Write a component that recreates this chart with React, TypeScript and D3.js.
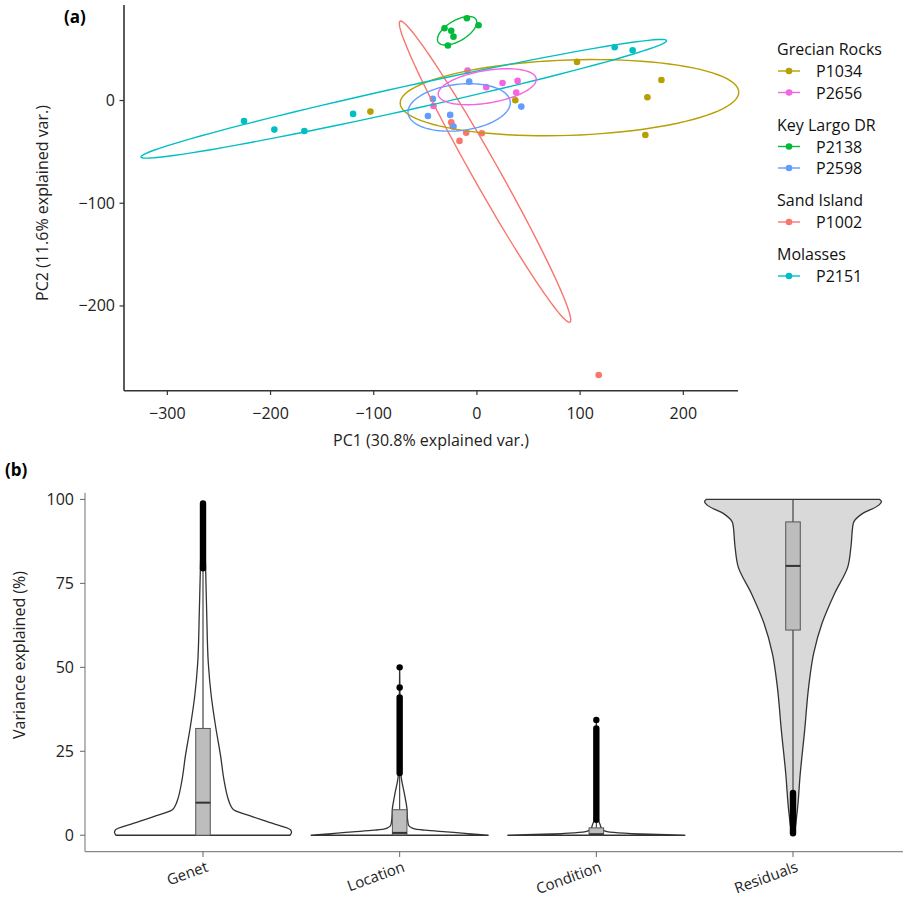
import React from "react";
import * as d3 from "d3";

// ---------- Panel (a) data: PCA scores per genet (PC1, PC2) ----------
const genets = ["P1002", "P1034", "P2138", "P2151", "P2598", "P2656"]; // factor (draw) order
const genetColors = ["#F8766D", "#B79F00", "#00BA38", "#00BFC4", "#619CFF", "#F564E3"];

const pcP1002 = [[-24.9, -21.1], [-10.4, -31.3], [4.8, -31.9], [-16.9, -39.3], [118, -267.2], [-23.5, -25]];
const pcP1034 = [[-103.2, -10.8], [97, 37.6], [178.8, 20], [165.2, 3.2], [163.2, -33.5], [37.2, 0.3]];
const pcP2138 = [[-9.7, 80.1], [1.6, 73.3], [-31.4, 70.4], [-24.9, 68], [-22.7, 62.2], [-28.1, 53.5]];
const pcP2151 = [[-225.7, -19.9], [-196.3, -28.3], [-167.2, -29.6], [-120, -13], [133.5, 51.9], [150.9, 49]];
const pcP2598 = [[-7.5, 18.4], [-42.7, 1.6], [-47.5, -15], [-25.9, -14], [-22.7, -25.4], [43, -5.9]];
const pcP2656 = [[-9.1, 29.1], [9, 13], [24.8, 17.1], [39.4, 19.1], [38.1, 7.7], [-42.1, -5.3]];
const pcScores = [pcP1002, pcP1034, pcP2138, pcP2151, pcP2598, pcP2656];

const sites = ["Grecian Rocks", "Key Largo DR", "Sand Island", "Molasses"];
const siteGenets = [["P1034", "P2656"], ["P2138", "P2598"], ["P1002"], ["P2151"]];

const xTicksA = [-300, -200, -100, 0, 100, 200];
const yTicksA = [-200, -100, 0];
const ellipseProb = 0.68;

// ---------- Panel (b) data: variance partitioning ----------
const components = ["Genet", "Location", "Condition", "Residuals"];
// violin outlines: [value %, relative density (max = 1)]
const violinGenet = [[0, 0.983], [0.8, 1], [1.6, 0.99], [3.6, 0.78], [5.5, 0.565], [7.5, 0.35], [9, 0.31], [10.5, 0.288], [16.5, 0.237], [23.4, 0.2], [32.3, 0.143], [41.3, 0.094], [51.2, 0.06], [66, 0.042], [79, 0.03], [90, 0.017], [99, 0]];
const violinLocation = [[0, 1], [0.5, 0.77], [1.0, 0.53], [1.5, 0.29], [1.8, 0.18], [2.3, 0.13], [3, 0.1], [5, 0.088], [8, 0.082], [12, 0.056], [18.4, 0.014], [30, 0.008], [50, 0]];
const violinCondition = [[0, 1], [0.3, 0.6], [0.7, 0.25], [1.2, 0.1], [2, 0.06], [3, 0.045], [4.5, 0.025], [8, 0.012], [20, 0.006], [34.3, 0]];
const violinResiduals = [[0.5, 0], [0.6, 0.011], [6.5, 0.045], [18.4, 0.082], [31.3, 0.132], [44.2, 0.177], [54.2, 0.234], [63.1, 0.328], [72, 0.47], [80, 0.62], [85.9, 0.655], [92.8, 0.68], [95.7, 0.78], [98.3, 0.97], [99.4, 1.0], [100, 0.98]];
const violins = [violinGenet, violinLocation, violinCondition, violinResiduals];
const violinFills = ["#ffffff", "#ffffff", "#ffffff", "#d9d9d9"];

// box stats: [whisker low, q1, median, q3, whisker high]
const boxStats = [[0, 0, 9.7, 31.8, 79.2], [0, 0.1, 0.7, 7.6, 18.2], [0, 0.05, 0.3, 2.2, 4.5], [12.8, 61.1, 80.2, 93.3, 100]];
// dense outlier runs [from, to] and isolated outliers
const outlierRuns = [[[79.5, 98.8]], [[18.5, 41]], [[4.6, 31.8]], [[0.6, 12.6]]];
const outlierPoints = [[], [44, 50], [34.3], []];
const yTicksB = [0, 25, 50, 75, 100];

const FONT = "'Open Sans', 'Noto Sans', sans-serif";
const fmt = (v: number) => (v < 0 ? "\u2212" + Math.abs(v) : String(v));

function ellipsePath(pts: number[][], x: any, y: any) {
  const n = pts.length;
  const mx = d3.mean(pts, (p) => p[0]) as number;
  const my = d3.mean(pts, (p) => p[1]) as number;
  let sxx = 0, syy = 0, sxy = 0;
  pts.forEach((p) => {
    sxx += (p[0] - mx) ** 2;
    syy += (p[1] - my) ** 2;
    sxy += (p[0] - mx) * (p[1] - my);
  });
  sxx /= n - 1; syy /= n - 1; sxy /= n - 1;
  const u11 = Math.sqrt(sxx);
  const u12 = sxy / u11;
  const u22 = Math.sqrt(Math.max(syy - u12 * u12, 0));
  const ed = Math.sqrt(-2 * Math.log(1 - ellipseProb));
  const ring = d3.range(0, 101).map((i) => {
    const t = (2 * Math.PI * i) / 100;
    const c = Math.cos(t), s = Math.sin(t);
    return [mx + ed * c * u11, my + ed * (c * u12 + s * u22)];
  });
  return d3.line().x((d: any) => x(d[0])).y((d: any) => y(d[1]))(ring as any) as string;
}

export default function App() {
  // Panel (a) scales
  const xA = d3.scaleLinear().domain([-342, 253]).range([124, 738]);
  const yA = d3.scaleLinear().domain([-282.5, 93]).range([390.7, 5]);

  // Panel (b) scales
  const xB = d3.scalePoint().domain(components).range([85, 911]).padding(0.6);
  const yB = d3.scaleLinear().domain([-4.9, 102]).range([851.7, 492.7]);
  const step = xB.step();
  const wScale = d3.scaleLinear().domain([0, 1]).range([0, 0.45 * step]);
  const boxW = step * 0.074;

  // legend layout
  const legendItems: any[] = [];
  let ly = 49;
  sites.forEach((s, si) => {
    legendItems.push({ type: "title", text: s, y: ly });
    ly += 22;
    siteGenets[si].forEach((g, gi) => {
      legendItems.push({ type: "item", text: g, y: ly, color: genetColors[genets.indexOf(g)] });
      if (gi < siteGenets[si].length - 1) ly += 21.5;
    });
    ly += 32;
  });

  return (
    <svg width={903} height={900} style={{ display: "block", position: "absolute", left: 0, top: 0 }} fontFamily={FONT}>
      <rect width={903} height={900} fill="#fff" />
      {/* ---------------- Panel (a) ---------------- */}
      <text x={64} y={23} fontSize={17} fontWeight="bold" fill="#000">(a)</text>
      {/* points */}
      {pcScores.map((pts, gi) =>
        pts.map((p, i) => (
          <circle key={`p${gi}-${i}`} cx={xA(p[0])} cy={yA(p[1])} r={3.3} fill={genetColors[gi]} />
        ))
      )}
      {/* ellipses */}
      {pcScores.map((pts, gi) => (
        <path key={`e${gi}`} d={ellipsePath(pts, xA, yA)} fill="none" stroke={genetColors[gi]} strokeWidth={1.4} />
      ))}
      {/* axes */}
      <line x1={124} x2={124} y1={5} y2={390.7} stroke="#333" strokeWidth={1.6} />
      <line x1={124} x2={738} y1={390.7} y2={390.7} stroke="#333" strokeWidth={1.6} />
      {xTicksA.map((t) => (
        <g key={`xa${t}`}>
          <line x1={xA(t)} x2={xA(t)} y1={390.7} y2={395} stroke="#333" strokeWidth={1.2} />
          <text x={xA(t)} y={419} fontSize={16} textAnchor="middle" fill="#222">{fmt(t)}</text>
        </g>
      ))}
      {yTicksA.map((t) => (
        <g key={`ya${t}`}>
          <line x1={119.5} x2={124} y1={yA(t)} y2={yA(t)} stroke="#333" strokeWidth={1.2} />
          <text x={115} y={yA(t) + 5.5} fontSize={16} textAnchor="end" fill="#222">{fmt(t)}</text>
        </g>
      ))}
      <text x={431} y={446} fontSize={16} textAnchor="middle" fill="#222">PC1 (30.8% explained var.)</text>
      <text transform={`translate(48,203) rotate(-90)`} fontSize={16} textAnchor="middle" fill="#222">PC2 (11.6% explained var.)</text>
      {/* legend */}
      {legendItems.map((it, i) =>
        it.type === "title" ? (
          <text key={`l${i}`} x={777} y={it.y + 6} fontSize={16} fill="#111">{it.text}</text>
        ) : (
          <g key={`l${i}`}>
            <line x1={778} x2={800} y1={it.y} y2={it.y} stroke={it.color} strokeWidth={1.4} />
            <circle cx={789} cy={it.y} r={3.3} fill={it.color} />
            <text x={816} y={it.y + 6} fontSize={16} fill="#111">{it.text}</text>
          </g>
        )
      )}

      {/* ---------------- Panel (b) ---------------- */}
      <text x={5} y={476} fontSize={17} fontWeight="bold" fill="#000">(b)</text>
      {components.map((c, ci) => {
        const cx = xB(c) as number;
        const area = d3
          .area<number[]>()
          .y((d) => yB(d[0]))
          .x0((d) => cx - wScale(d[1]))
          .x1((d) => cx + wScale(d[1]))
          .curve(d3.curveMonotoneY);
        const bs = boxStats[ci];
        return (
          <g key={`v${c}`}>
            <path d={area(violins[ci] as any) as string} fill={violinFills[ci]} stroke="#333" strokeWidth={1.3} strokeLinejoin="round" />
            {/* whiskers */}
            <line x1={cx} x2={cx} y1={yB(bs[3])} y2={yB(bs[4])} stroke="#333" strokeWidth={1.1} />
            <line x1={cx} x2={cx} y1={yB(bs[1])} y2={yB(bs[0])} stroke="#333" strokeWidth={1.1} />
            {/* box */}
            <rect x={cx - boxW / 2} y={yB(bs[3])} width={boxW} height={Math.max(yB(bs[1]) - yB(bs[3]), 1)} fill="#bdbdbd" stroke="#555" strokeWidth={1} />
            <line x1={cx - boxW / 2} x2={cx + boxW / 2} y1={yB(bs[2])} y2={yB(bs[2])} stroke="#333" strokeWidth={2} />
            {/* outliers */}
            {outlierRuns[ci].map((r, ri) => (
              <line key={`r${ri}`} x1={cx} x2={cx} y1={yB(r[0])} y2={yB(r[1])} stroke="#000" strokeWidth={6.4} strokeLinecap="round" />
            ))}
            {outlierPoints[ci].map((v, vi) => (
              <circle key={`o${vi}`} cx={cx} cy={yB(v)} r={3.2} fill="#000" />
            ))}
          </g>
        );
      })}
      {/* axes (b) */}
      <line x1={85} x2={85} y1={492.7} y2={851.7} stroke="#888" strokeWidth={1.2} />
      <line x1={85} x2={903} y1={851.7} y2={851.7} stroke="#888" strokeWidth={1.2} />
      {yTicksB.map((t) => (
        <g key={`yb${t}`}>
          <line x1={80} x2={85} y1={yB(t)} y2={yB(t)} stroke="#666" strokeWidth={1} />
          <text x={74} y={yB(t) + 5.5} fontSize={16} textAnchor="end" fill="#222">{t}</text>
        </g>
      ))}
      {components.map((c) => {
        const cx = xB(c) as number;
        return (
          <g key={`xb${c}`}>
            <line x1={cx} x2={cx} y1={851.7} y2={857} stroke="#666" strokeWidth={1} />
            <text transform={`translate(${cx + 6},871) rotate(-20)`} fontSize={15} textAnchor="end" fill="#222">{c}</text>
          </g>
        );
      })}
      <text transform={`translate(25,655) rotate(-90)`} fontSize={16} textAnchor="middle" fill="#222">Variance explained (%)</text>
    </svg>
  );
}
